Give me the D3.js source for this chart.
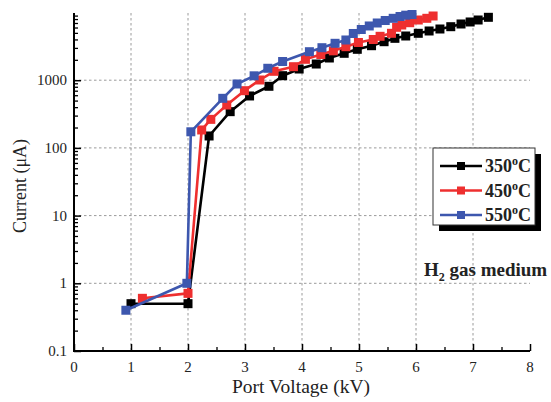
<!DOCTYPE html>
<html>
<head>
<meta charset="utf-8">
<script src="https://cdn.jsdelivr.net/npm/d3@7"></script>
<style>
  html, body { margin: 0; padding: 0; background: #fff; }
  svg { display: block; }
  text { font-family: "Liberation Serif", "Times New Roman", serif; fill: #222; }
</style>
</head>
<body>
<svg id="chart" width="551" height="402"></svg>
<script>
// ---- data ----
const seriesNames = ["350", "450", "550"];
const seriesColors = ["#000000", "#ee2f2f", "#3d57ae"];

const x350 = [1.0, 2.0, 2.37, 2.74, 3.08, 3.42, 3.66, 3.95, 4.25, 4.48, 4.74, 4.97, 5.22, 5.44, 5.63, 5.82, 6.04, 6.23, 6.42, 6.61, 6.79, 6.95, 7.09, 7.27];
const y350 = [0.5, 0.5, 150, 343, 585, 813, 1166, 1463, 1734, 2128, 2496, 2860, 3233, 3704, 4155, 4497, 4929, 5333, 5705, 6170, 6765, 7244, 7748, 8491];

const x450 = [1.2, 2.0, 2.24, 2.40, 2.68, 2.99, 3.26, 3.51, 3.85, 4.06, 4.33, 4.55, 4.77, 4.99, 5.25, 5.37, 5.57, 5.66, 5.75, 5.89, 6.04, 6.19, 6.30];
const y450 = [0.6, 0.71, 184, 264, 430, 700, 1007, 1353, 1583, 2036, 2398, 2716, 3125, 3606, 3991, 4449, 4929, 6043, 6535, 7068, 7748, 8208, 8878];

const x550 = [0.91, 1.98, 2.05, 2.61, 2.86, 3.16, 3.40, 3.66, 4.13, 4.35, 4.58, 4.77, 4.90, 5.04, 5.18, 5.32, 5.46, 5.60, 5.72, 5.82, 5.93];
const y550 = [0.40, 1.0, 173, 540, 879, 1161, 1500, 1888, 2636, 3020, 3508, 3926, 4898, 5610, 6324, 6998, 7621, 8208, 8730, 9128, 9340];

const xTicks = [0, 1, 2, 3, 4, 5, 6, 7, 8];
const yTicks = [0.1, 1, 10, 100, 1000];
const yTickLabels = ["0.1", "1", "10", "100", "1000"];
const xGrid = [1, 2, 3, 4, 5, 6, 7];
const yGrid = [1, 10, 100, 1000];

const xTitle = "Port Voltage (kV)";
const yTitle = "Current (\u03BCA)";
const annotation = "gas medium";

// ---- layout ----
const svg = d3.select("#chart");
const L = 74, R = 530, B = 351, T = 12.5;
const x = d3.scaleLinear().domain([0, 8]).range([L, R]);
const y = d3.scaleLog().domain([0.1, 10000]).range([B, T]);

// grid
const grid = svg.append("g").attr("stroke", "#9a9a9a").attr("stroke-width", 1).attr("stroke-dasharray", "2.5,2.5");
grid.selectAll("line.v").data(xGrid).join("line")
  .attr("x1", d => x(d)).attr("x2", d => x(d)).attr("y1", 13).attr("y2", B);
grid.selectAll("line.h").data(yGrid).join("line")
  .attr("x1", L).attr("x2", R).attr("y1", d => y(d)).attr("y2", d => y(d));

// minor tick values
const yMinor = [];
[0.1, 1, 10, 100, 1000].forEach(dec => { for (let k = 2; k <= 9; k++) yMinor.push(dec * k); });
const xMinor = d3.range(0.5, 8, 1);

// y axis
const yAxis = svg.append("g").attr("transform", `translate(${L},0)`)
  .call(d3.axisRight(y).tickValues(yTicks).tickSize(7).tickFormat(""));
yAxis.select(".domain").remove();
yAxis.selectAll(".tick line").attr("stroke", "#000").attr("stroke-width", 1.5);
const yAxisMinor = svg.append("g").attr("transform", `translate(${L},0)`)
  .call(d3.axisRight(y).tickValues(yMinor).tickSize(4).tickFormat(""));
yAxisMinor.select(".domain").remove();
yAxisMinor.selectAll(".tick line").attr("stroke", "#000").attr("stroke-width", 1.3);
svg.append("g").selectAll("text").data(yTicks).join("text")
  .attr("x", L - 7).attr("y", d => y(d) + 5)
  .attr("text-anchor", "end").attr("font-size", 15).text((d, i) => yTickLabels[i]);

// x axis
const xAxis = svg.append("g").attr("transform", `translate(0,${B})`)
  .call(d3.axisTop(x).tickValues(xTicks).tickSize(7).tickFormat(""));
xAxis.select(".domain").remove();
xAxis.selectAll(".tick line").attr("stroke", "#000").attr("stroke-width", 1.5);
const xAxisMinor = svg.append("g").attr("transform", `translate(0,${B})`)
  .call(d3.axisTop(x).tickValues(xMinor).tickSize(4).tickFormat(""));
xAxisMinor.select(".domain").remove();
xAxisMinor.selectAll(".tick line").attr("stroke", "#000").attr("stroke-width", 1.3);
svg.append("g").selectAll("text").data(xTicks).join("text")
  .attr("x", d => x(d)).attr("y", B + 21)
  .attr("text-anchor", "middle").attr("font-size", 15).text(d => d);

// axis lines
svg.append("line").attr("x1", L).attr("x2", L).attr("y1", 13).attr("y2", B + 1)
  .attr("stroke", "#000").attr("stroke-width", 2);
svg.append("line").attr("x1", L - 1).attr("x2", R).attr("y1", B).attr("y2", B)
  .attr("stroke", "#000").attr("stroke-width", 2);

// titles
svg.append("text").attr("x", 301).attr("y", 393).attr("text-anchor", "middle")
  .attr("font-size", 19.5).text(xTitle);
svg.append("text").attr("transform", "translate(26,186) rotate(-90)").attr("text-anchor", "middle")
  .attr("font-size", 18).text(yTitle);

// series
const allX = [x350, x450, x550];
const allY = [y350, y450, y550];
const line = d3.line().x(d => x(d[0])).y(d => y(d[1]));
allX.forEach((xs, i) => {
  const pts = xs.map((v, j) => [v, allY[i][j]]);
  const g = svg.append("g");
  g.append("path").datum(pts).attr("d", line).attr("fill", "none")
    .attr("stroke", seriesColors[i]).attr("stroke-width", 2.6).attr("stroke-linejoin", "round");
  const s = 9;
  g.selectAll("rect").data(pts).join("rect")
    .attr("x", d => x(d[0]) - s / 2).attr("y", d => y(d[1]) - s / 2)
    .attr("width", s).attr("height", s).attr("fill", seriesColors[i]);
});

// legend
const lg = svg.append("g");
const lx = 433, ly = 148, lw = 102, lh = 77;
lg.append("rect").attr("x", lx + 6).attr("y", ly + 6).attr("width", lw).attr("height", lh).attr("fill", "#000");
lg.append("rect").attr("x", lx).attr("y", ly).attr("width", lw).attr("height", lh)
  .attr("fill", "#fff").attr("stroke", "#333").attr("stroke-width", 1);
seriesNames.forEach((n, i) => {
  const cy = ly + 18 + i * 24.5;
  lg.append("line").attr("x1", lx + 7).attr("x2", lx + 49).attr("y1", cy).attr("y2", cy)
    .attr("stroke", seriesColors[i]).attr("stroke-width", 2.6);
  lg.append("rect").attr("x", lx + 28 - 4).attr("y", cy - 4).attr("width", 8).attr("height", 8)
    .attr("fill", seriesColors[i]);
  const t = lg.append("text").attr("x", lx + 52).attr("y", cy + 6)
    .attr("font-size", 18).attr("font-weight", "bold").attr("fill", "#111");
  t.append("tspan").text(n);
  t.append("tspan").attr("dy", -7).attr("font-size", 12).text("o");
  t.append("tspan").attr("dy", 7).text("C");
});

// annotation
const an = svg.append("text").attr("x", 424).attr("y", 276)
  .attr("font-size", 19).attr("font-weight", "bold").attr("fill", "#111");
an.append("tspan").text("H");
an.append("tspan").attr("dy", 5).attr("font-size", 12).text("2");
an.append("tspan").attr("dy", -5).text(" " + annotation);
</script>
</body>
</html>
